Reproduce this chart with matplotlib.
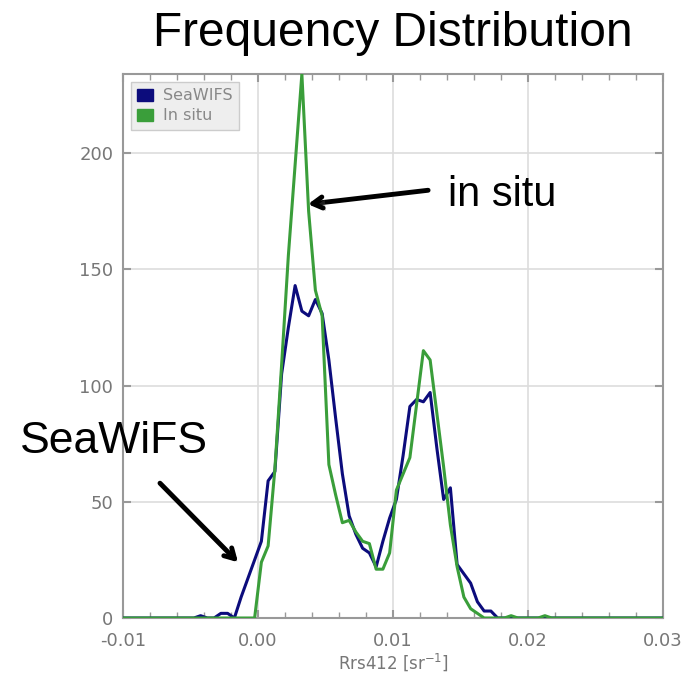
import matplotlib
matplotlib.use("Agg")
import matplotlib.pyplot as plt
import matplotlib.patheffects as pe
from matplotlib.patches import Patch
from matplotlib.ticker import MultipleLocator, FormatStrFormatter

# bin centres of the histogram (plus the plot edges)
rrs = [
    -0.01,
    -0.00475, -0.00425, -0.00375, -0.00325, -0.00275,
    -0.00225, -0.00175, -0.00125, -0.00075, -0.00025,
    0.00025, 0.00075, 0.00125, 0.00175, 0.00225,
    0.00275, 0.00325, 0.00375, 0.00425, 0.00475,
    0.00525, 0.00575, 0.00625, 0.00675, 0.00725,
    0.00775, 0.00825, 0.00875, 0.00925, 0.00975,
    0.01025, 0.01075, 0.01125, 0.01175, 0.01225,
    0.01275, 0.01325, 0.01375, 0.01425, 0.01475,
    0.01525, 0.01575, 0.01625, 0.01675, 0.01725,
    0.01775, 0.01825, 0.01875, 0.01925, 0.01975,
    0.02025, 0.02075, 0.02125, 0.02175, 0.02225,
    0.03,
]

seawifs = [
    0,
    0, 1, 0, 0, 2,
    2, 0, 9, 17, 25,
    33, 59, 63, 105, 125,
    143, 132, 130, 137, 131,
    111, 86, 62, 44, 36,
    30, 28, 22, 33, 43,
    51, 70, 91, 94, 93,
    97, 73, 51, 56, 23,
    19, 15, 7, 3, 3,
    0, 0, 0, 0, 0,
    0, 0, 0, 0, 0,
    0,
]

in_situ = [
    0,
    0, 0, 0, 0, 0,
    0, 0, 0, 0, 0,
    24, 31, 64, 109, 156,
    195, 234, 175, 141, 130,
    66, 53, 41, 42, 37,
    33, 32, 21, 21, 28,
    55, 62, 69, 92, 115,
    111, 88, 65, 40, 22,
    9, 4, 2, 0, 0,
    0, 0, 1, 0, 0,
    0, 0, 1, 0, 0,
    0,
]

navy = "#0c0c7c"
green = "#3a9e3a"
grey = "#777777"

fig = plt.figure(figsize=(6.89, 6.81), dpi=100)
ax = fig.add_axes([0.1785, 0.0925, 0.7838, 0.7988])

ax.plot(rrs, seawifs, color=navy, lw=2.2, zorder=3)
ax.plot(rrs, in_situ, color=green, lw=2.2, zorder=4)

ax.set_xlim(-0.01, 0.03)
ax.set_ylim(0, 234)
ax.xaxis.set_major_locator(MultipleLocator(0.01))
ax.xaxis.set_minor_locator(MultipleLocator(0.002))
ax.yaxis.set_major_locator(MultipleLocator(50))
ax.xaxis.set_major_formatter(FormatStrFormatter("%.2f"))

ax.grid(True, which="major", color="#dddddd", lw=1.2, zorder=0)
for s in ax.spines.values():
    s.set_color("#999999")
    s.set_linewidth(1.5)
ax.tick_params(which="both", direction="in", top=True, right=True,
               color="#999999", labelcolor=grey, labelsize=13)
ax.tick_params(which="major", length=6, width=1.5)
ax.tick_params(which="minor", length=4, width=1.0)
ax.tick_params(axis="x", pad=10)
ax.tick_params(axis="y", pad=7)
ax.set_xlabel("Rrs412 [sr$^{-1}$]", color=grey, fontsize=12, labelpad=1)

leg = ax.legend(
    handles=[Patch(color=navy, label="SeaWIFS"), Patch(color=green, label="In situ")],
    loc="upper left", fontsize=11.5, fancybox=False, framealpha=1,
    handlelength=1.0, handleheight=0.8, handletextpad=0.6,
    borderaxespad=0.5, labelspacing=0.3, borderpad=0.4,
)
leg.get_frame().set_facecolor("#eeeeee")
leg.get_frame().set_edgecolor("#cccccc")
for t in leg.get_texts():
    t.set_color("#888888")

ax.set_title("Frequency Distribution", fontsize=34.5, family="Liberation Sans", pad=20)

shadow = [pe.withSimplePatchShadow(offset=(2, -2), alpha=0.35)]
arrow = dict(arrowstyle="->,head_length=0.7,head_width=0.4", lw=3.5, color="black",
             shrinkA=0, shrinkB=0, path_effects=shadow)

ax.annotate("", xy=(0.0037, 178), xytext=(0.0126, 184), arrowprops=arrow, zorder=6)
ax.text(0.0141, 182, "in situ", fontsize=30, family="Liberation Sans",
        ha="left", va="center")

ax.annotate("", xy=(-0.00148, 24), xytext=(-0.00726, 58), arrowprops=arrow,
            annotation_clip=False, zorder=6)
ax.text(-0.0176, 76, "SeaWiFS", fontsize=32, family="Liberation Sans",
        ha="left", va="center")

fig.savefig("out.png", dpi=100)
